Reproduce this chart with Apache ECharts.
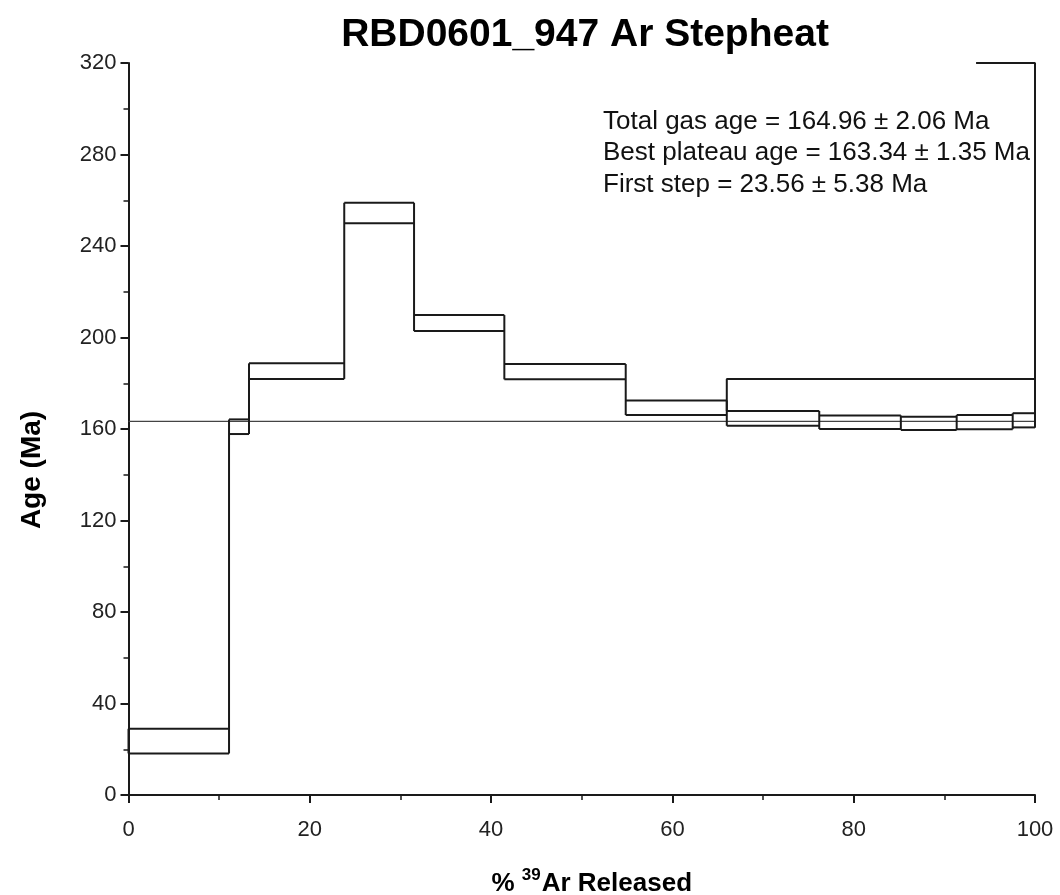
<!DOCTYPE html>
<html>
<head>
<meta charset="utf-8">
<script src="https://cdn.jsdelivr.net/npm/echarts@6/dist/echarts.min.js"></script>
<style>
  html, body { margin: 0; padding: 0; background: #fff; }
  #chart { width: 1060px; height: 895px; }
</style>
</head>
<body>
<div id="chart"></div>
<script>
// Step-heating increments: cumulative % 39Ar released (start, end) and age envelope (low, high) in Ma
const stepStart = [0, 11.09, 13.29, 23.8, 31.5, 41.46, 54.85, 66.0, 76.2, 85.2, 91.36, 97.54];
const stepEnd   = [11.09, 13.29, 23.8, 31.5, 41.46, 54.85, 66.0, 76.2, 85.2, 91.36, 97.54, 100];
const ageLow    = [18.18, 157.8, 181.9, 249.9, 202.8, 181.7, 166.1, 161.4, 160.0, 159.6, 159.9, 160.7];
const ageHigh   = [28.94, 164.2, 188.7, 258.9, 209.8, 188.4, 172.5, 167.9, 165.9, 165.4, 166.1, 166.9];

// Best plateau: spans steps 8-12
const plateauFirstStep = 7;
const plateauStart = 66.0;
const plateauEnd = 100;
const plateauTop = 181.9;
const plateauAge = 163.34;

const xTicks = [0, 20, 40, 60, 80, 100];
const yTicks = [0, 40, 80, 120, 160, 200, 240, 280, 320];

const statLines = [
  'Total gas age = 164.96 \u00b1 2.06 Ma',
  'Best plateau age = 163.34 \u00b1 1.35 Ma',
  'First step = 23.56 \u00b1 5.38 Ma'
];

const stepData = stepStart.map((s, i) => [s, stepEnd[i], ageLow[i], ageHigh[i]]);
const lastLow = ageLow[ageLow.length - 1];

const FONT = '"Liberation Sans", Arial, sans-serif';
const INK = '#1a1a1a';

const chart = echarts.init(document.getElementById('chart'), null, { renderer: 'canvas' });

// One increment: top and bottom edges, plus the riser on its right that
// joins it to the next increment (spanning both envelopes).
function renderStep(params, api) {
  const i = params.dataIndex;
  const x0 = api.value(0), x1 = api.value(1), lo = api.value(2), hi = api.value(3);
  const tl = api.coord([x0, hi]);
  const tr = api.coord([x1, hi]);
  const bl = api.coord([x0, lo]);
  const br = api.coord([x1, lo]);
  let rLo = lo, rHi = hi;
  if (i + 1 < stepData.length) {
    rLo = Math.min(lo, stepData[i + 1][2]);
    rHi = Math.max(hi, stepData[i + 1][3]);
  }
  const rTop = api.coord([x1, rHi]);
  const rBot = api.coord([x1, rLo]);
  const style = { stroke: INK, lineWidth: 2, fill: 'none' };
  const children = [
    { type: 'line', shape: { x1: tl[0], y1: tl[1], x2: tr[0], y2: tr[1] }, style: style },
    { type: 'line', shape: { x1: bl[0], y1: bl[1], x2: br[0], y2: br[1] }, style: style },
    { type: 'line', shape: { x1: rTop[0], y1: rTop[1], x2: rBot[0], y2: rBot[1] }, style: style }
  ];
  if (i === 0) {
    children.push({ type: 'line', shape: { x1: tl[0], y1: tl[1], x2: bl[0], y2: bl[1] }, style: style });
  }
  return { type: 'group', children: children };
}

chart.setOption({
  animation: false,
  backgroundColor: '#ffffff',
  title: {
    text: 'RBD0601_947 Ar Stepheat',
    left: 580,
    textAlign: 'center',
    top: 11,
    textStyle: { fontFamily: FONT, fontSize: 39, fontWeight: 'bold', color: '#000' }
  },
  grid: { left: 128.5, right: 25, top: 63, bottom: 100, outerBoundsMode: 'none' },
  xAxis: {
    type: 'value',
    min: xTicks[0],
    max: xTicks[xTicks.length - 1],
    interval: 20,
    name: '{a|% }{sup|39}{a|Ar Released}',
    nameLocation: 'middle',
    nameGap: 72,
    nameTextStyle: {
      padding: [0, 0, 0, 20],
      rich: {
        a: { fontFamily: FONT, fontSize: 26, fontWeight: 'bold', color: '#000', verticalAlign: 'bottom', lineHeight: 30 },
        sup: { fontFamily: FONT, fontSize: 17, fontWeight: 'bold', color: '#000', verticalAlign: 'top', lineHeight: 30, padding: [0, 1, 12, 0] }
      }
    },
    axisLine: { show: true, lineStyle: { color: INK, width: 2 } },
    axisTick: { show: true, length: 8, lineStyle: { color: INK, width: 2 } },
    minorTick: { show: true, splitNumber: 2, length: 5, lineStyle: { color: INK, width: 1.5 } },
    splitLine: { show: false },
    axisLabel: { fontFamily: FONT, fontSize: 22, color: '#222', margin: 24 }
  },
  yAxis: {
    type: 'value',
    min: yTicks[0],
    max: yTicks[yTicks.length - 1],
    interval: 40,
    name: 'Age (Ma)',
    nameLocation: 'middle',
    nameGap: 82,
    nameTextStyle: { fontFamily: FONT, fontSize: 28, fontWeight: 'bold', color: '#000', padding: [0, 82, 0, 0] },
    axisLine: { show: true, lineStyle: { color: INK, width: 2 } },
    axisTick: { show: true, length: 8, lineStyle: { color: INK, width: 2 } },
    minorTick: { show: true, splitNumber: 2, length: 5, lineStyle: { color: INK, width: 1.5 } },
    splitLine: { show: false },
    axisLabel: { fontFamily: FONT, fontSize: 22, color: '#222', margin: 12 }
  },
  graphic: [
    {
      type: 'text',
      left: 603,
      top: 106,
      style: {
        text: statLines.join('\n'),
        font: '26px ' + FONT,
        fill: '#111',
        lineHeight: 31.5
      }
    }
  ],
  series: [
    {
      // plateau-age reference line
      type: 'line',
      data: [[0, plateauAge], [100, plateauAge]],
      symbol: 'none',
      silent: true,
      z: 1,
      lineStyle: { color: '#444', width: 1.3 }
    },
    {
      // age spectrum
      type: 'custom',
      data: stepData,
      z: 3,
      renderItem: renderStep
    },
    {
      // best plateau bracket
      type: 'line',
      data: [[plateauStart, ageHigh[plateauFirstStep]], [plateauStart, plateauTop], [plateauEnd, plateauTop]],
      symbol: 'none',
      z: 2,
      lineStyle: { color: INK, width: 2 },
      markPoint: {
        symbol: 'none',
        data: [{ coord: [83, plateauTop] }],
        label: {
          show: true,
          formatter: 'Best Plateau',
          position: 'top',
          distance: 5,
          fontFamily: FONT,
          fontSize: 26,
          color: '#111'
        }
      }
    },
    {
      // right border segment
      type: 'line',
      data: [[100, lastLow], [100, yTicks[yTicks.length - 1]], [93.5, yTicks[yTicks.length - 1]]],
      symbol: 'none',
      z: 2,
      lineStyle: { color: INK, width: 2 }
    }
  ]
});
</script>
</body>
</html>
